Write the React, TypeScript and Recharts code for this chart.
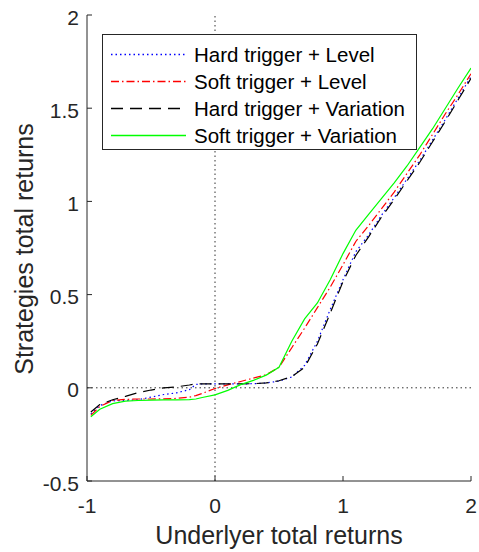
import React from 'react'
import { LineChart, Line, XAxis, YAxis, ReferenceLine, Legend } from 'recharts'

// underlyer total returns (x) and strategy returns
const underlyer = [-0.97, -0.9, -0.8, -0.7, -0.6, -0.5, -0.4, -0.3, -0.2, -0.15, -0.1, 0,
    0.1, 0.2, 0.3, 0.4, 0.5, 0.6, 0.7, 0.8, 0.9, 1.0, 1.1, 1.2, 1.3, 1.4, 1.5, 1.6, 1.7, 1.8, 1.9, 2.0]

const hardLevel = [-0.14, -0.095, -0.07, -0.068, -0.064, -0.05, -0.036, -0.027, -0.01, 0.018, 0.021, 0.021,
    0.021, 0.021, 0.022, 0.026, 0.036, 0.058, 0.12, 0.25, 0.42, 0.58, 0.73, 0.82, 0.925, 1.02, 1.12, 1.22, 1.33, 1.44, 1.555, 1.67]
const softLevel = [-0.148, -0.1, -0.068, -0.062, -0.06, -0.06, -0.059, -0.057, -0.05, -0.042, -0.03, -0.004,
    0.016, 0.034, 0.052, 0.07, 0.11, 0.215, 0.32, 0.43, 0.54, 0.66, 0.785, 0.87, 0.96, 1.05, 1.15, 1.25, 1.36, 1.47, 1.575, 1.685]
const hardVariation = [-0.13, -0.09, -0.064, -0.046, -0.026, -0.012, 0.0, 0.005, 0.015, 0.021, 0.021, 0.021,
    0.021, 0.021, 0.022, 0.026, 0.038, 0.06, 0.11, 0.235, 0.4, 0.57, 0.71, 0.81, 0.915, 1.01, 1.11, 1.21, 1.32, 1.43, 1.545, 1.66]
const softVariation = [-0.155, -0.115, -0.085, -0.072, -0.068, -0.066, -0.065, -0.065, -0.063, -0.06, -0.052, -0.038,
    -0.014, 0.017, 0.04, 0.068, 0.11, 0.25, 0.37, 0.455, 0.58, 0.72, 0.845, 0.93, 1.015, 1.1, 1.19, 1.29, 1.39, 1.5, 1.61, 1.715]

const xTicks = [-1, 0, 1, 2]
const yTicks = [-0.5, 0, 0.5, 1, 1.5, 2]

const series = [
    { key: 'hardLevel', name: 'Hard trigger + Level', color: '#0000FF', dash: '1.5 3' },
    { key: 'softLevel', name: 'Soft trigger + Level', color: '#FF0000', dash: '8 3 1.5 3' },
    { key: 'hardVariation', name: 'Hard trigger + Variation', color: '#000000', dash: '12 7' },
    { key: 'softVariation', name: 'Soft trigger + Variation', color: '#00FF00', dash: undefined },
]

const data = underlyer.map((x, i) => ({
    x,
    hardLevel: hardLevel[i],
    softLevel: softLevel[i],
    hardVariation: hardVariation[i],
    softVariation: softVariation[i],
}))

const FONT = '"Liberation Sans", Arial, Helvetica, sans-serif'
const AXIS = '#262626'
const TICK_LEN = 5

// matlab style ticks: short mark pointing into the plot, label outside
const BottomTick = (p: any) => (
    <g>
        <line x1={p.x} x2={p.x} y1={p.y - 17} y2={p.y - 17 - TICK_LEN} stroke={AXIS} strokeWidth={1} />
        <text x={p.x} y={p.y} dy="0.72em" textAnchor="middle" style={{ fontFamily: FONT, fontSize: 21, fill: AXIS }}>
            {p.payload.value}
        </text>
    </g>
)
const LeftTick = (p: any) => (
    <g>
        <line x1={p.x + 8} x2={p.x + 8 + TICK_LEN} y1={p.y} y2={p.y} stroke={AXIS} strokeWidth={1} />
        <text x={p.x} y={p.y} dy={9.5} textAnchor="end" style={{ fontFamily: FONT, fontSize: 21, fill: AXIS }}>
            {p.payload.value}
        </text>
    </g>
)
const TopTick = (p: any) => (
    <line x1={p.x} x2={p.x} y1={p.y} y2={p.y + TICK_LEN} stroke={AXIS} strokeWidth={1} />
)
const RightTick = (p: any) => (
    <line x1={p.x} x2={p.x - TICK_LEN} y1={p.y} y2={p.y} stroke={AXIS} strokeWidth={1} />
)

const LegendBox = () => (
    <div style={{
        width: 313, height: 108, border: `1px solid ${AXIS}`, background: '#fff',
        fontFamily: FONT, fontSize: 20.5, color: '#000', paddingTop: 6, boxSizing: 'content-box'
    }}>
        {series.map(s => (
            <div key={s.key} style={{ height: 27, display: 'flex', alignItems: 'center' }}>
                <svg width={91} height={27} style={{ flex: 'none' }}>
                    <line x1={8} x2={83} y1={13.5} y2={13.5} stroke={s.color} strokeWidth={1.5} strokeDasharray={s.dash} />
                </svg>
                <span style={{ whiteSpace: 'nowrap', lineHeight: '27px' }}>{s.name}</span>
            </div>
        ))}
    </div>
)

const YLabel = (props: any) => {
    const vb = props.viewBox || { x: 0, y: 15, height: 466 }
    const cy = vb.y + vb.height / 2 + 1
    return (
        <text transform={`translate(33, ${cy}) rotate(-90)`} textAnchor="middle"
            style={{ fontFamily: FONT, fontSize: 25, fill: AXIS }}>
            Strategies total returns
        </text>
    )
}

export default function App() {
    return (
        <div style={{ position: 'absolute', left: 0, top: 0, width: 479, height: 552, background: '#fff' }}>
            <LineChart width={479} height={552} data={data} margin={{ top: 15, right: 8, left: 0, bottom: 0 }}>
                <XAxis xAxisId="bottom" dataKey="x" type="number" domain={[-1, 2]} ticks={xTicks}
                    allowDataOverflow height={71} stroke={AXIS} tickLine={false} tickSize={0} tickMargin={17}
                    tick={<BottomTick />}
                    label={{ value: 'Underlyer total returns', position: 'insideBottom', offset: 8, style: { fontFamily: FONT, fontSize: 25, fill: AXIS } }} />
                <XAxis xAxisId="top" orientation="top" dataKey="x" type="number" domain={[-1, 2]} ticks={xTicks}
                    allowDataOverflow height={0} stroke={AXIS} tickLine={false} tickSize={0} tickMargin={0}
                    tick={<TopTick />} />
                <YAxis yAxisId="left" type="number" domain={[-0.5, 2]} ticks={yTicks} allowDataOverflow
                    width={87} stroke={AXIS} tickLine={false} tickSize={0} tickMargin={8} tick={<LeftTick />}
                    label={<YLabel />} />
                <YAxis yAxisId="right" orientation="right" type="number" domain={[-0.5, 2]} ticks={yTicks}
                    allowDataOverflow width={0} stroke={AXIS} tickLine={false} tickSize={0} tickMargin={0}
                    tick={<RightTick />} />
                <ReferenceLine xAxisId="bottom" yAxisId="left" x={0} stroke="#333" strokeDasharray="1.5 3" />
                <ReferenceLine xAxisId="bottom" yAxisId="left" y={0} stroke="#333" strokeDasharray="1.5 3" />
                {series.map(s => (
                    <Line key={s.key} xAxisId="bottom" yAxisId="left" type="linear" dataKey={s.key} name={s.name}
                        stroke={s.color} strokeWidth={1.2} strokeDasharray={s.dash} dot={false}
                        activeDot={false} isAnimationActive={false} />
                ))}
                <Legend layout="vertical" align="center" verticalAlign="middle" content={<LegendBox />}
                    wrapperStyle={{ position: 'absolute', left: 102, top: 34, width: 315, height: 116 }} />
            </LineChart>
        </div>
    )
}
